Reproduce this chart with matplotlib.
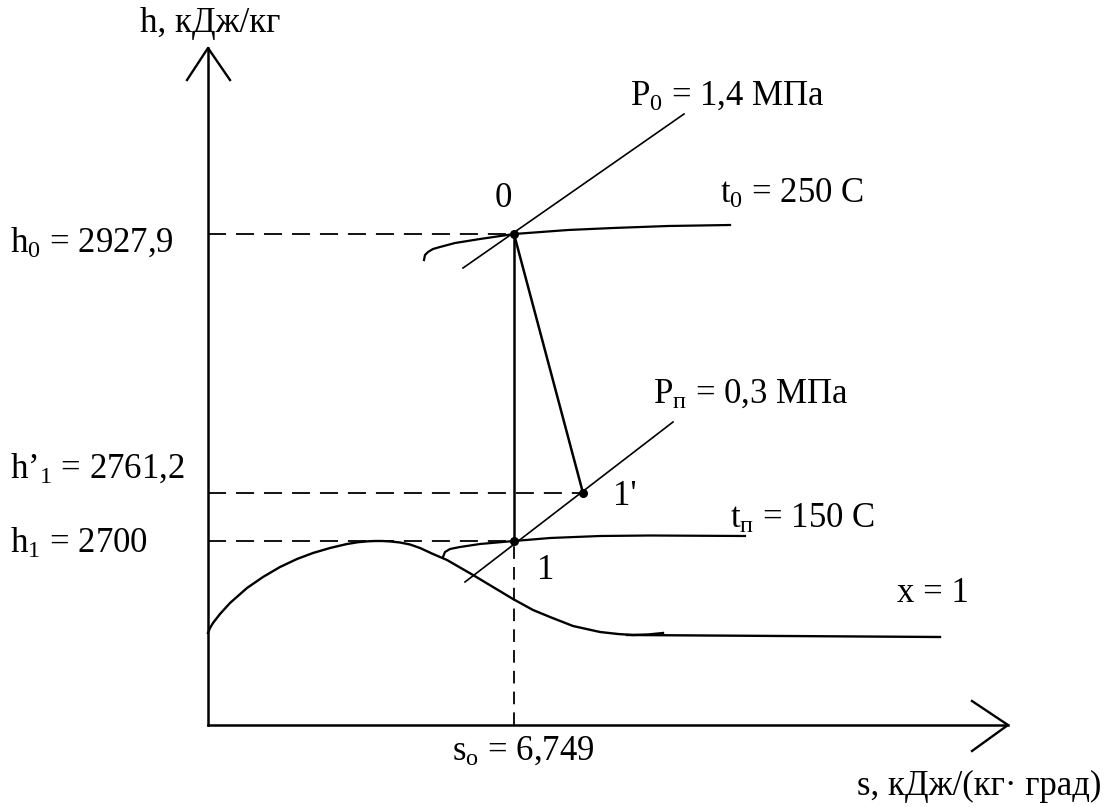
import numpy as np
import matplotlib.pyplot as plt

plt.rcParams['font.family'] = ['Liberation Serif', 'DejaVu Serif']
plt.rcParams['mathtext.fontset'] = 'custom'
plt.rcParams['mathtext.rm'] = 'Liberation Serif'
plt.rcParams['mathtext.it'] = 'Liberation Serif:italic'

# schematic h-s diagram, coordinates in diagram units (origin at the axes corner)
s_axis_end = 800
h_axis_end = 677

# state points: 0, 1 (isentropic), 1' (real)
s0, h0 = 306, 491
s1, h1 = 306, 184
s1r, h1r = 375, 232

# labelled values
h0_label = "2927,9"
h1r_label = "2761,2"
h1_label = "2700"
s0_label = "6,749"

# saturation line x = 1
x1_s = [0, 2, 5, 12, 22, 39, 55, 72, 89, 105, 122, 139, 150, 160, 167, 174, 182, 192,
        202, 212, 225, 239, 265, 285, 305, 325, 342, 365, 392, 410, 425, 440, 455]
x1_h = [92, 97, 102, 111, 122, 137, 148, 158, 166, 172, 177, 181, 182.8, 183.7, 184, 184,
        183.6, 182.5, 180.5, 177, 171, 165, 150, 138, 126, 115, 108, 99, 93, 91, 90, 90.5, 92]
x1_tail_s = [419, 732]
x1_tail_h = [90, 88]

# isotherms t0 and tп
t0_s = [216, 217, 220, 225, 232, 247, 272, 306, 360, 405, 460, 522]
t0_h = [465, 470, 473, 476, 478, 482, 486, 491, 495, 497, 499, 500]
tp_s = [235, 237, 242, 252, 272, 306, 342, 392, 442, 537]
tp_h = [168, 173, 176, 178, 181, 184, 187, 189, 189.5, 189]

# isobars P0 and Pп
p0_s = [255, 476]
p0_h = [457, 611]
pp_s = [257, 465]
pp_h = [143, 303]

fig = plt.figure(figsize=(11.14, 8.07), dpi=100)
ax = fig.add_axes([0, 0, 1, 1])
ax.set_xlim(-208, 906)
ax.set_ylim(-82, 725)
ax.axis('off')

k = 'black'
# axes with open arrowheads
ax.plot([0, 0], [0, h_axis_end], color=k, lw=1.8)
ax.plot([0, s_axis_end], [0, 0], color=k, lw=1.8)
ax.plot([-21, 0, 22], [h_axis_end - 32, h_axis_end, h_axis_end - 32], color=k, lw=1.7)
ax.plot([s_axis_end - 36, s_axis_end, s_axis_end - 36], [24, 0, -26], color=k, lw=1.7)

# curves
ax.plot(x1_s, x1_h, color=k, lw=1.7)
ax.plot(x1_tail_s, x1_tail_h, color=k, lw=1.7)
ax.plot(t0_s, t0_h, color=k, lw=1.6)
ax.plot(tp_s, tp_h, color=k, lw=1.6)
ax.plot(p0_s, p0_h, color=k, lw=1.2)
ax.plot(pp_s, pp_h, color=k, lw=1.2)

# expansion lines
ax.plot([s0, s1], [h0, h1], color=k, lw=1.8)
ax.plot([s0, s1r], [h0, h1r], color=k, lw=1.8)

# dashed reference lines
dash = (0, (10, 5.5))
ax.plot([0, s0], [h0, h0], color=k, lw=1.3, linestyle=dash)
ax.plot([0, s1r], [h1r, h1r], color=k, lw=1.3, linestyle=dash)
ax.plot([0, s1], [h1, h1], color=k, lw=1.3, linestyle=dash)
ax.plot([s1, s1], [0, h1], color=k, lw=1.3, linestyle=(0, (7, 4.5)))

ax.plot([s0, s1r, s1], [h0, h1r, h1], 'o', color=k, ms=5.5)

fs = 25
def label(x, y, txt, ha='left'):
    ax.text(x, y, txt, fontsize=fs, ha=ha, va='baseline')

label(2, 693, "h, кДж/кг", ha='center')
label(649, -70, "s, кДж/(кг· град)")
label(-198, h0 - 18, "h$_\\mathrm{0}$ = " + h0_label)
label(-198, h1r + 15, "h’$_\\mathrm{1}$ = " + h1r_label)
label(-198, h1 - 12, "h$_\\mathrm{1}$ = " + h1_label)
label(244, -35, "s$_\\mathrm{o}$ = " + s0_label)
label(689, 123, "x = 1")
label(422, 620, "P$_\\mathrm{0}$ = 1,4 МПа")
label(512, 522, "t$_\\mathrm{0}$ = 250 C")
label(287, 518, "0")
label(445, 322, "P$_\\mathrm{п}$ = 0,3 МПа")
label(405, 220, "1'")
label(522, 197, "t$_\\mathrm{п}$ = 150 C")
label(329, 146, "1")

fig.savefig("out.png", dpi=100)
